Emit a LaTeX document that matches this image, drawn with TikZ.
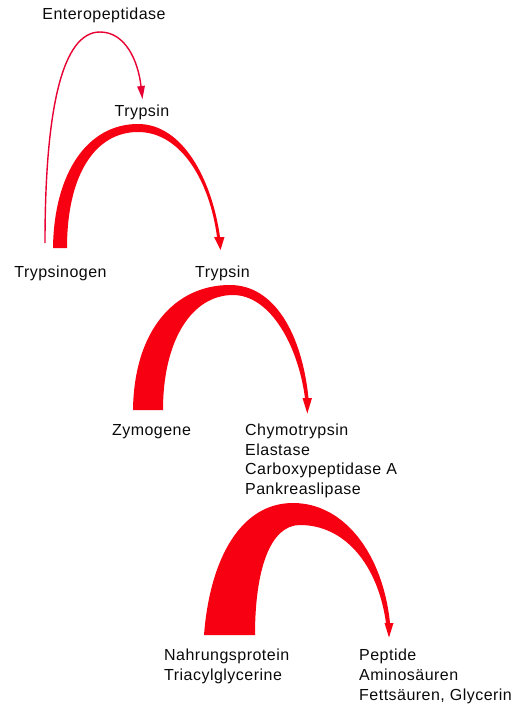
\documentclass[tikz,border=0pt]{standalone}
\usepackage{fontspec}
\setmainfont{Liberation Sans}[LetterSpace=3.0]
\usetikzlibrary{arrows.meta}
\definecolor{bandred}{RGB}{246,0,18}
\definecolor{thinred}{RGB}{232,0,50}
\definecolor{txt}{RGB}{10,10,10}
\tikzset{
  lbl/.style={font=\fontsize{16}{19.6}\selectfont, inner sep=0pt, text=txt},
  blk/.style={lbl, align=left, anchor=north west},
  band/.style={fill=bandred, draw=none},
  thinarc/.style={draw=thinred, line width=1.4pt, -{Triangle[length=13pt,width=7.5pt]}}
}
\begin{document}
\begin{tikzpicture}[x=1pt,y=-1pt]
\useasboundingbox (0,0) rectangle (515,707);
% labels
\node[lbl, anchor=base] (ent) at (104,19.5) {Enteropeptidase};
\node[lbl, anchor=base] (tr1) at (142,116.5) {Trypsin};
\node[lbl, anchor=base] (tgen) at (60.5,277) {Trypsinogen};
\node[lbl, anchor=base] (tr2) at (222.5,277) {Trypsin};
\node[lbl, anchor=base] (zym) at (151.5,435.5) {Zymogene};
\node[blk] (enz) at (245,423.8) {Chymotrypsin\\Elastase\\Carboxypeptidase A\\Pankreaslipase};
\node[blk] (food) at (164,649) {Nahrungsprotein\\Triacylglycerine};
\node[blk] (prod) at (359,649) {Peptide\\Aminosäuren\\Fettsäuren, Glycerin};
% connector end points
\coordinate (e0) at (45,243);
\coordinate (e1) at (142.5,99);
% thin arc: Trypsinogen -> Trypsin (Enteropeptidase)
\draw[thinarc] (e0) .. controls (45,110) and (62,32) .. (100,32)
  .. controls (125,32) and (138,60) .. (e1);
% band 1: Trypsinogen -> Trypsin
\coordinate (a1s) at (53,248);
\coordinate (a1t) at (220.5,250);
\fill[band] (a1s) .. controls (54,172) and (88,124) .. (138,124)
  .. controls (183,124) and (212,180) .. (220,237)
  -- (224.5,237) -- (a1t) -- (214,237) -- (217,237)
  .. controls (210,183) and (182,132) .. (138,132)
  .. controls (95,132) and (67,175) .. (67,248) -- cycle;
% band 2: Zymogene -> enzymes
\coordinate (a2s) at (133,410);
\coordinate (a2t) at (307.3,413.5);
\fill[band] (a2s) .. controls (134,330) and (175,285) .. (230,285)
  .. controls (275,285) and (302,335) .. (308.5,398)
  -- (312,398) -- (a2t) -- (302.5,398) -- (305,398)
  .. controls (298,345) and (270,295) .. (233,295)
  .. controls (192,295) and (163,340) .. (163,410) -- cycle;
% band 3: food -> products
\coordinate (a3s) at (204,635);
\coordinate (a3t) at (389,637.5);
\fill[band] (a3s) .. controls (210,558) and (241,503) .. (293,503)
  .. controls (345,503) and (383,555) .. (390,623)
  -- (393.5,623) -- (a3t) -- (384.5,623) -- (386,623)
  .. controls (378,565) and (345,525) .. (300,525)
  .. controls (270,525) and (255,570) .. (255,635) -- cycle;
\end{tikzpicture}
\end{document}
